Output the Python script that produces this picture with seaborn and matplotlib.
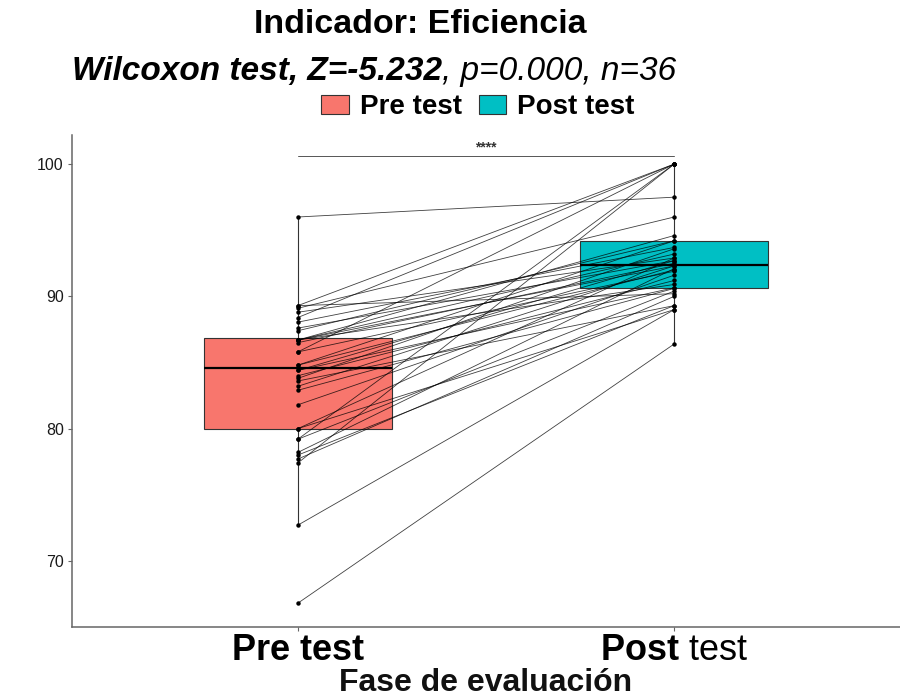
import numpy as np
import pandas as pd
import matplotlib
matplotlib.use('Agg')
import matplotlib.pyplot as plt
import seaborn as sns
from matplotlib.patches import Patch

# ---------------- data ----------------
fases = ['Pre test', 'Post test']
pre = [66.8, 72.7, 77.4, 77.7, 78.0, 78.2, 79.2, 79.2, 80.0, 80.0, 81.8, 82.9,
       83.2, 83.6, 83.8, 84.0, 84.4, 84.4, 84.8, 84.8, 85.8, 85.8, 86.5, 86.7,
       86.7, 86.7, 86.7, 87.4, 87.6, 88.05, 88.4, 88.8, 89.1, 89.3, 89.3, 96.0]
post = [86.4, 89.0, 100.0, 90.0, 89.3, 92.1, 100.0, 90.4, 89.0, 92.9, 91.6, 90.6,
        92.3, 89.3, 93.6, 91.2, 92.7, 90.65, 94.2, 92.0, 100.0, 91.9, 92.5, 93.2,
        90.9, 94.6, 92.3, 94.2, 92.7, 93.7, 100.0, 92.9, 96.0, 100.0, 90.2, 97.5]
colors = ['#F8766D', '#00BFC4']
yticks = [70, 80, 90, 100]
title = 'Indicador: Eficiencia'
sub_bold = 'Wilcoxon test, Z=-5.232'
sub_rest = ', p=0.000, n=36'
sig_label = '****'
xlabel = 'Fase de evaluación'
xtick_labels = [r'$\mathbf{Pre}$ $\mathbf{test}$', r'$\mathbf{Post}$ test']

# ---------------- style ----------------
sns.set_theme(style='white')
plt.rcParams['font.family'] = ['Liberation Sans', 'DejaVu Sans']
plt.rcParams['mathtext.fontset'] = 'custom'
plt.rcParams['mathtext.rm'] = 'Liberation Sans'
plt.rcParams['mathtext.bf'] = 'Liberation Sans:bold'
plt.rcParams['mathtext.it'] = 'Liberation Sans:italic'
plt.rcParams['text.color'] = 'black'

n = len(pre)
df = pd.DataFrame({
    'id': list(range(n)) * 2,
    'fase': [fases[0]] * n + [fases[1]] * n,
    'valor': pre + post,
})
df['pos'] = df['fase'].map({f: i for i, f in enumerate(fases)})

fig = plt.figure(figsize=(9, 6.97), dpi=100)
ax = fig.add_axes([0.08, 0.1004, 0.92, 0.7059])

sns.boxplot(data=df, x='fase', y='valor', hue='fase', order=fases, hue_order=fases,
            palette=colors, saturation=1, width=0.5, whis=1.7, showfliers=False,
            showcaps=False, linecolor='#333333', linewidth=0.8,
            medianprops={'linewidth': 1.6, 'color': 'black'},
            legend=False, dodge=False, ax=ax)
sns.lineplot(data=df, x='pos', y='valor', units='id', estimator=None,
             color='black', linewidth=0.6, alpha=0.75, ax=ax, zorder=3, legend=False)
sns.stripplot(data=df, x='fase', y='valor', order=fases, jitter=False,
              color='black', size=3.2, ax=ax, zorder=4, legend=False)

# significance bracket
ax.plot([0, 1], [100.6, 100.6], color='#555555', lw=0.7, zorder=2)
ax.text(0.5, 100.7, sig_label, ha='center', va='bottom', fontsize=10,
        fontweight='bold', color='#333333')

ax.set_xlim(-0.6, 1.6)
ax.set_ylim(65, 102.2)
ax.set_yticks(yticks)
ax.set_yticklabels([str(v) for v in yticks], fontsize=11.5, color='#1a1a1a')
ax.set_xticks([0, 1])
ax.set_xticklabels(xtick_labels, fontsize=26, color='black')
ax.tick_params(axis='both', which='both', direction='out', length=3, width=0.8,
               color='#666666', bottom=True, left=True)
ax.tick_params(axis='x', pad=1)
ax.tick_params(axis='y', pad=3)
for s in ['top', 'right']:
    ax.spines[s].set_visible(False)
for s in ['left', 'bottom']:
    ax.spines[s].set_color('#666666')
    ax.spines[s].set_linewidth(1.1)
ax.set_ylabel('')
ax.set_xlabel(xlabel, fontsize=23, fontweight='bold', color='#111111', labelpad=0)

# titles
fig.text(0.467, 1 - 33 / 697, title, ha='center', va='baseline',
         fontsize=24.5, fontweight='bold', color='black')
t1 = fig.text(72 / 900, 1 - 80 / 697, sub_bold, ha='left', va='baseline',
              fontsize=24, fontweight='bold', style='italic', color='black')
fig.canvas.draw()
bb = t1.get_window_extent(renderer=fig.canvas.get_renderer())
fig.text(bb.x1 / fig.bbox.width, 1 - 80 / 697, sub_rest, ha='left', va='baseline',
         fontsize=24, style='italic', color='black')

# legend
handles = [Patch(facecolor=c, edgecolor='#333333', linewidth=0.8) for c in colors]
fig.legend(handles=handles, labels=fases, loc='center', bbox_to_anchor=(0.531, 0.846),
           ncol=2, frameon=False, prop={'weight': 'bold', 'size': 20},
           handlelength=1.0, handleheight=0.7, handletextpad=0.4, columnspacing=0.6)

fig.savefig('out.png', dpi=100)
